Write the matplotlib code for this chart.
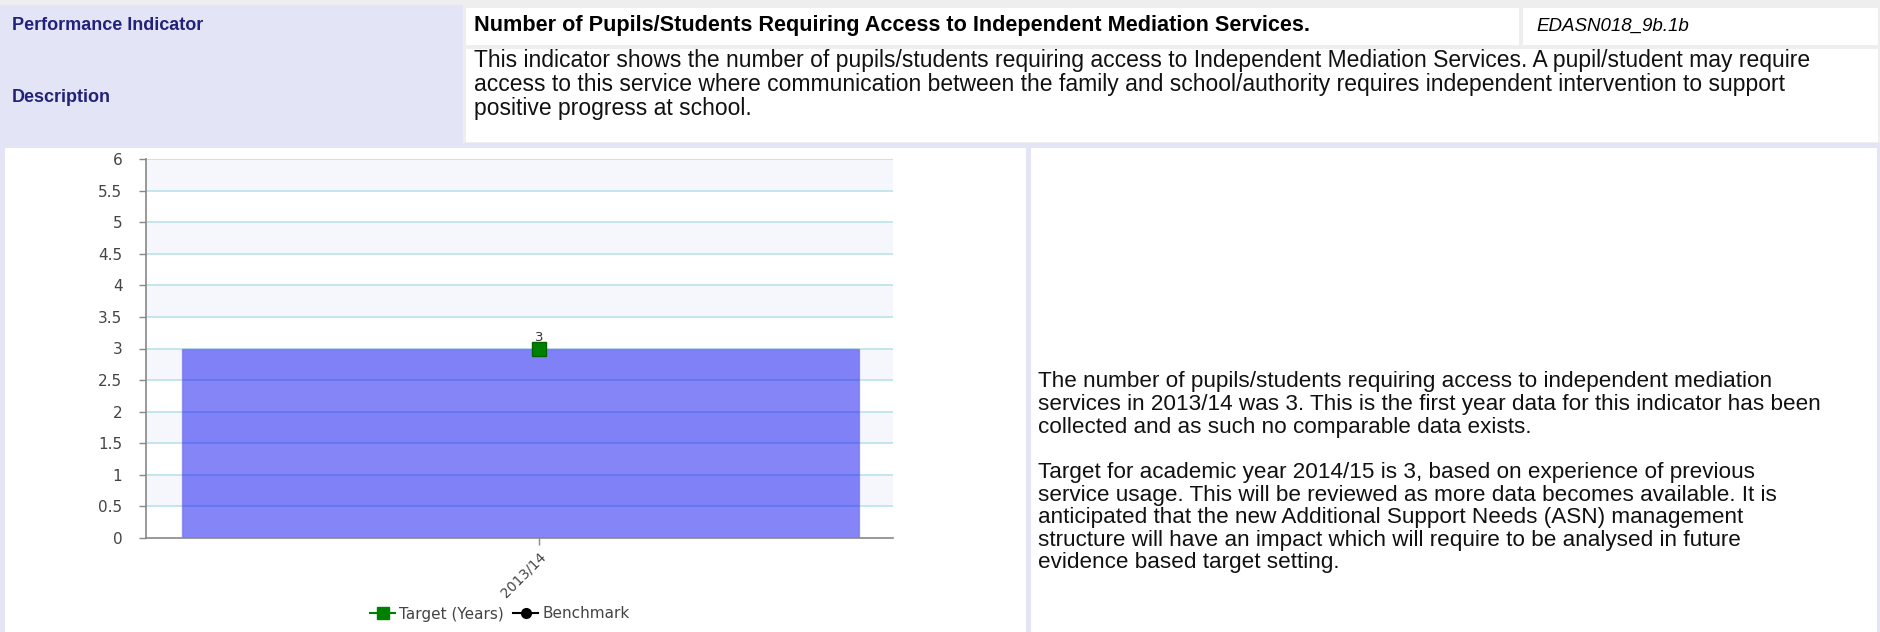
import matplotlib
matplotlib.use('Agg')
import matplotlib.pyplot as plt
from matplotlib.patches import Rectangle
from matplotlib.lines import Line2D

# indicator data
categories = ['2013/14']
actual = [3]
target = [3]
y_ticks = [0, 0.5, 1, 1.5, 2, 2.5, 3, 3.5, 4, 4.5, 5, 5.5, 6]

indicator_label = 'Performance Indicator'
indicator_title = 'Number of Pupils/Students Requiring Access to Independent Mediation Services.'
indicator_code = 'EDASN018_9b.1b'
description_label = 'Description'
description_lines = [
    'This indicator shows the number of pupils/students requiring access to Independent Mediation Services. A pupil/student may require',
    'access to this service where communication between the family and school/authority requires independent intervention to support',
    'positive progress at school.',
]
commentary_lines = [
    'The number of pupils/students requiring access to independent mediation',
    'services in 2013/14 was 3. This is the first year data for this indicator has been',
    'collected and as such no comparable data exists.',
    '',
    'Target for academic year 2014/15 is 3, based on experience of previous',
    'service usage. This will be reviewed as more data becomes available. It is',
    'anticipated that the new Additional Support Needs (ASN) management',
    'structure will have an impact which will require to be analysed in future',
    'evidence based target setting.',
]

W, H = 1881, 632
LAVENDER = '#E4E4F7'
GAP = '#EEEEEE'

fig = plt.figure(figsize=(W / 100, H / 100), dpi=100)
fig.patch.set_facecolor('white')


def box(x0, y0, x1, y1, color):
    fig.patches.append(Rectangle((x0 / W, 1 - y1 / H), (x1 - x0) / W, (y1 - y0) / H,
                                 transform=fig.transFigure, facecolor=color,
                                 edgecolor='none', zorder=0))


def label(x, y, s, **kw):
    fig.text(x / W, 1 - y / H, s, va='center', ha='left',
             family='Liberation Sans', **kw)


# table frame
box(0, 0, W, 148, GAP)
box(0, 5, 463, 143, LAVENDER)
box(466, 8, 1519, 45, 'white')
box(1523, 8, 1878, 45, 'white')
box(466, 49, 1878, 142, 'white')
box(0, 143, W, 148, LAVENDER)
box(0, 148, 5, H, LAVENDER)
box(1026, 148, 1031, H, LAVENDER)
box(1877, 148, W, H, LAVENDER)

label(12, 26, indicator_label, color='#22227A', fontweight='bold', fontsize=13)
label(12, 97, description_label, color='#22227A', fontweight='bold', fontsize=13)
label(474, 26, indicator_title, color='black', fontweight='bold', fontsize=15.6)
label(1536, 26, indicator_code, color='black', style='italic', fontsize=13.5)
for i, line in enumerate(description_lines):
    label(474, 61 + i * 23.5, line, color='#111111', fontsize=16.5)
for i, line in enumerate(commentary_lines):
    if line:
        label(1038, 382 + i * 22.6, line, color='#111111', fontsize=16.2)

# chart
left, right, top, bottom = 146, 893, 159, 538
tick_px, bar_l, bar_r = 539, 182, 859
span = right - left
ax = fig.add_axes([left / W, 1 - bottom / H, span / W, (bottom - top) / H])
ax.set_facecolor('white')
x = list(range(len(categories)))

# alternating horizontal bands
for lo in y_ticks[1:-1:2]:
    ax.axhspan(lo, lo + 0.5, color='#F6F7FC', zorder=0, lw=0)
for t in y_ticks[1:]:
    ax.axhline(t, color='#B9E2EA', lw=1.2, zorder=1)

bar_start = (bar_l - tick_px) / span
bar_w = (bar_r - bar_l) / span
ax.bar([xi + bar_start for xi in x], actual, width=bar_w, align='edge',
       color='#0000F0', alpha=0.48, edgecolor='#5A5AE8', linewidth=1, zorder=2)
ax.plot(x, target, color='#008000', marker='s', markersize=9.5,
        markeredgecolor='#006400', linestyle='-', zorder=4)
for xi, t in zip(x, target):
    ax.annotate(str(t), (xi, t), xytext=(0, 3), textcoords='offset points',
                ha='center', va='bottom', fontsize=9.5, color='#333333',
                family='DejaVu Sans', zorder=5)

x_lo = -(tick_px - left) / span
ax.set_xlim(x_lo, x_lo + len(categories))
ax.set_ylim(0, 6)
ax.set_yticks(y_ticks)
ax.set_yticklabels(['{:g}'.format(t) for t in y_ticks])
ax.set_xticks(x)
ax.set_xticklabels(categories, rotation=45, ha='right', rotation_mode='anchor')
ax.tick_params(axis='both', colors='#888888', labelcolor='#444444',
               labelsize=11, length=5, width=1, pad=12)
ax.tick_params(axis='x', labelsize=10, pad=3)
for lbl in ax.get_xticklabels() + ax.get_yticklabels():
    lbl.set_family('DejaVu Sans')
for side in ('top', 'right'):
    ax.spines[side].set_visible(False)
for side in ('left', 'bottom'):
    ax.spines[side].set_color('#888888')
    ax.spines[side].set_linewidth(1.2)

handles = [
    Line2D([], [], color='#008000', marker='s', markersize=8, lw=1.5),
    Line2D([], [], color='black', marker='o', markersize=7, lw=1.5),
]
leg = fig.legend(handles, ['Target (Years)', 'Benchmark'], loc='center',
                 bbox_to_anchor=(500 / W, 1 - 614 / H), ncol=2, frameon=False,
                 handlelength=1.6, handletextpad=0.3, columnspacing=0.6,
                 prop={'family': 'DejaVu Sans', 'size': 11})
for txt in leg.get_texts():
    txt.set_color('#444444')

fig.savefig('out.png', dpi=100)
